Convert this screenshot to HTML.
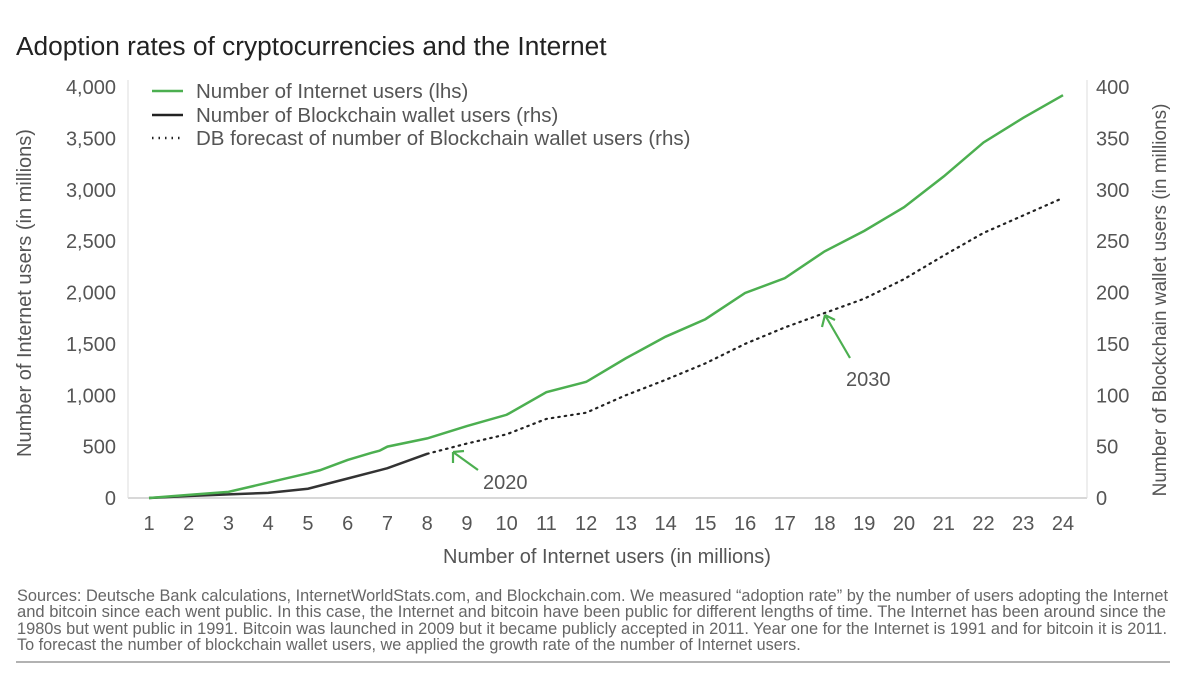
<!DOCTYPE html>
<html><head><meta charset="utf-8"><style>
body{margin:0;background:#fff;font-family:"Liberation Sans",sans-serif;}
#wrap{position:relative;width:1200px;height:680px;overflow:hidden;}
</style></head><body>
<div id="wrap">
<svg id="svg" width="1200" height="680" style="position:absolute;left:0;top:0">
<text x="16" y="55" font-size="26.3" fill="#222">Adoption rates of cryptocurrencies and the Internet</text>
<g id="axes"></g><g id="marks"></g>
<g font-size="20.5" fill="#555">
<line x1="152" y1="91" x2="183" y2="91" stroke="#4caf50" stroke-width="2.5"/>
<text x="196" y="98">Number of Internet users (lhs)</text>
<line x1="152" y1="115" x2="183" y2="115" stroke="#222" stroke-width="2.5"/>
<text x="196" y="122">Number of Blockchain wallet users (rhs)</text>
<line x1="152" y1="138" x2="183" y2="138" stroke="#222" stroke-width="2.5" stroke-dasharray="1.5,5"/>
<text x="196" y="145">DB forecast of number of Blockchain wallet users (rhs)</text>
</g>
<g>
<path d="M478,470 L453,452 M453,452 L453,463 M453,452 L464,451" stroke="#4caf50" stroke-width="2.2" fill="none"/>
<text x="483" y="489" font-size="20" fill="#555">2020</text>
</g>
<g>
<path d="M850,358 L825,315 M825,315 L822,327 M825,315 L835,320" stroke="#4caf50" stroke-width="2.2" fill="none"/>
<text x="846" y="386" font-size="20" fill="#555">2030</text>
</g>
<g font-size="16.2" fill="#666">
<text x="17" y="601" textLength="1151" lengthAdjust="spacingAndGlyphs">Sources: Deutsche Bank calculations, InternetWorldStats.com, and Blockchain.com. We measured “adoption rate” by the number of users adopting the Internet</text>
<text x="17" y="617" textLength="1149" lengthAdjust="spacingAndGlyphs">and bitcoin since each went public. In this case, the Internet and bitcoin have been public for different lengths of time. The Internet has been around since the</text>
<text x="17" y="634" textLength="1150" lengthAdjust="spacingAndGlyphs">1980s but went public in 1991. Bitcoin was launched in 2009 but it became publicly accepted in 2011. Year one for the Internet is 1991 and for bitcoin it is 2011.</text>
<text x="17" y="650">To forecast the number of blockchain wallet users, we applied the growth rate of the number of Internet users.</text>
</g>
<line x1="16" y1="662" x2="1170" y2="662" stroke="#999" stroke-width="1.5"/>
</svg>
</div>
<script>
const years=[1,2,3,4,5,6,7,8,9,10,11,12,13,14,15,16,17,18,19,20,21,22,23,24];
const internetX=[1,2,3,4,5,5.3,6,6.6,6.8,7,8,9,10,11,12,13,14,15,16,17,18,19,20,21,22,23,24];
const internet=[0,30,60,150,240,270,370,440,460,500,580,700,810,1030,1130,1360,1570,1740,1995,2140,2400,2600,2830,3130,3460,3700,3920];
const walletX=[1,2,3,4,5,6,7,8];
const wallet=[0,2,3.5,5,9,19,29,43];
const forecastX=[8,9,10,11,12,13,14,15,16,17,18,19,20,21,22,23,24];
const forecast=[43,53,62,77,83,100,115,131,150,166,180,194,213,236,258,275,292];
const leftTicks=[0,500,1000,1500,2000,2500,3000,3500,4000];
const rightTicks=[0,50,100,150,200,250,300,350,400];
const NS='http://www.w3.org/2000/svg';
const X=v=>149+(v-1)*(1063-149)/23;
const YL=v=>498-v*(498-87)/4000;
const YR=v=>498-v*(498-87)/400;
function mk(t,a,p){const e=document.createElementNS(NS,t);for(const k in a)e.setAttribute(k,a[k]);p.appendChild(e);return e;}
const ax=document.getElementById('axes'),mg=document.getElementById('marks');
let e=mk('line',{x1:128,y1:498,x2:1087,y2:498,stroke:'#ccc','stroke-width':1.5},ax);


e=mk('line',{x1:128,y1:80,x2:128,y2:498,stroke:'#ddd','stroke-width':1},ax);


e=mk('line',{x1:1087,y1:80,x2:1087,y2:498,stroke:'#ddd','stroke-width':1},ax);


leftTicks.forEach(v=>{const t=mk('text',{x:116,y:YL(v)+7,'text-anchor':'end','font-size':20,fill:'#555'},ax);t.textContent=v.toLocaleString('en-US');

});
rightTicks.forEach(v=>{const t=mk('text',{x:1096,y:YR(v)+7,'font-size':20,fill:'#555'},ax);t.textContent=v;

});
years.forEach(v=>{const t=mk('text',{x:X(v),y:530,'text-anchor':'middle','font-size':20,fill:'#555'},ax);t.textContent=v;

});
e=mk('text',{x:607,y:563,'text-anchor':'middle','font-size':20,fill:'#555'},ax);e.textContent='Number of Internet users (in millions)';


e=mk('text',{x:0,y:0,'text-anchor':'middle','font-size':20,fill:'#555',transform:'translate(31,293) rotate(-90)'},ax);e.textContent='Number of Internet users (in millions)';


e=mk('text',{x:0,y:0,'text-anchor':'middle','font-size':19,fill:'#555',transform:'translate(1166,300) rotate(-90)'},ax);e.textContent='Number of Blockchain wallet users (in millions)';


const pts=(xs,ys,f)=>xs.map((x,i)=>X(x)+','+f(ys[i])).join(' ');
e=mk('polyline',{points:pts(forecastX,forecast,YR),fill:'none',stroke:'#222','stroke-width':2.2,'stroke-dasharray':'1.5,5','stroke-linecap':'round'},mg);


e=mk('polyline',{points:pts(walletX,wallet,YR),fill:'none',stroke:'#333','stroke-width':2.5},mg);


e=mk('polyline',{points:pts(internetX,internet,YL),fill:'none',stroke:'#4caf50','stroke-width':2.5},mg);


</script>
</body></html>
